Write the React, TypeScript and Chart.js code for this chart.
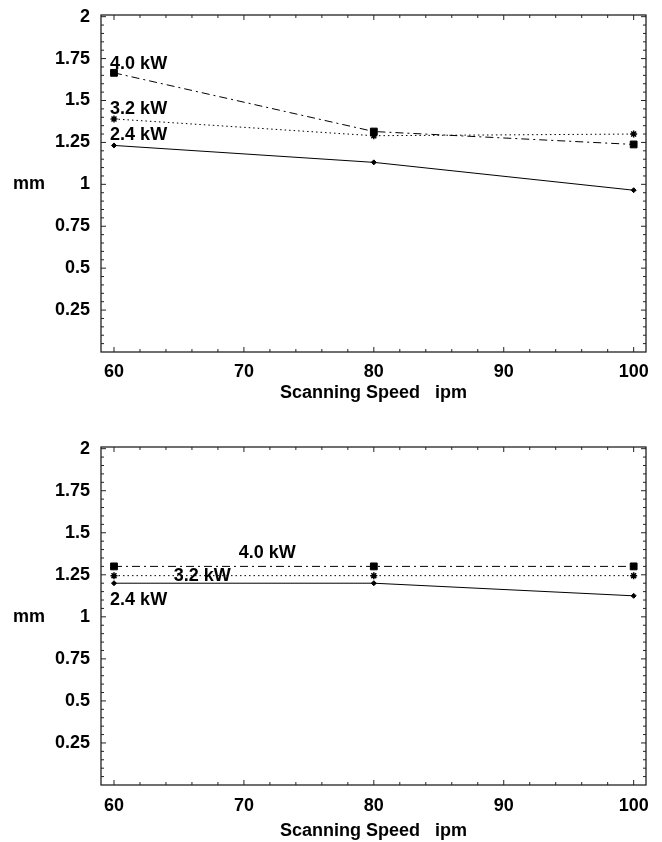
import React, { useEffect, useRef } from 'react';
import { Chart, registerables } from 'chart.js';

Chart.register(...registerables);

// ---- data ----
const speeds = [60, 80, 100];
const seriesNames = ['4.0 kW', '3.2 kW', '2.4 kW'];

const top40 = [1.665, 1.315, 1.238];
const top32 = [1.39, 1.29, 1.3];
const top24 = [1.232, 1.131, 0.965];

const bot40 = [1.3, 1.3, 1.3];
const bot32 = [1.245, 1.245, 1.245];
const bot24 = [1.2, 1.2, 1.125];

const xTickValues = [60, 70, 80, 90, 100];
const yTickValues = [0.25, 0.5, 0.75, 1, 1.25, 1.5, 1.75, 2];

// label anchors (data units) for the in-plot series names
const topLabelX = [59.7, 59.7, 59.7];
const topLabelY = [1.72, 1.452, 1.292];
const botLabelX = [69.6, 64.6, 59.7];
const botLabelY = [1.381, 1.244, 1.1];

const xTitle = 'Scanning Speed   ipm';
const yTitle = 'mm';

const FONT = "'Liberation Sans', Arial, Helvetica, sans-serif";

function makeConfig(
  series: number[][],
  labelX: number[],
  labelY: number[],
  padTop: number,
  xAxisHeight: number,
  xTickPad: number,
  titlePadBottom: number
): any {
  const dashes = [[8, 4, 2, 4], [1.5, 3], []];
  const styles = ['rect', 'star', 'rectRot'];
  const radii = [4.8, 3.5, 2.5];

  const framePlugin = {
    id: 'frame',
    beforeDatasetsDraw(chart: any) {
      const { ctx, chartArea: a, scales } = chart;
      const xs = scales.x;
      const ys = scales.y;
      ctx.save();
      ctx.strokeStyle = '#222';
      ctx.lineWidth = 1.3;
      ctx.strokeRect(a.left, a.top, a.right - a.left, a.bottom - a.top);
      ctx.lineWidth = 1;
      ctx.beginPath();
      for (let v = 60; v <= 100; v += 2) {
        const px = xs.getPixelForValue(v);
        const len = v % 10 === 0 ? 5 : 3;
        ctx.moveTo(px, a.bottom);
        ctx.lineTo(px, a.bottom - len);
        ctx.moveTo(px, a.top);
        ctx.lineTo(px, a.top + len);
      }
      for (let i = 1; i <= 40; i++) {
        const v = i * 0.05;
        const py = ys.getPixelForValue(v);
        const len = i % 5 === 0 ? 5 : 3;
        ctx.moveTo(a.left, py);
        ctx.lineTo(a.left + len, py);
        ctx.moveTo(a.right, py);
        ctx.lineTo(a.right - len, py);
      }
      ctx.stroke();
      ctx.restore();
    },
    afterDraw(chart: any) {
      const { ctx, scales } = chart;
      const xs = scales.x;
      const ys = scales.y;
      ctx.save();
      ctx.fillStyle = '#000';
      ctx.font = `bold 18px ${FONT}`;
      ctx.textBaseline = 'middle';
      ctx.textAlign = 'left';
      seriesNames.forEach((n, i) => {
        ctx.fillText(n, xs.getPixelForValue(labelX[i]), ys.getPixelForValue(labelY[i]));
      });
      ctx.fillText(yTitle, 13, ys.getPixelForValue(1));
      ctx.restore();
    },
  };

  return {
    type: 'line',
    data: {
      datasets: series.map((s, i) => ({
        label: seriesNames[i],
        data: speeds.map((x, j) => ({ x, y: s[j] })),
        borderColor: '#000',
        backgroundColor: '#000',
        borderWidth: 1,
        borderDash: dashes[i],
        pointStyle: styles[i],
        pointRadius: radii[i],
        pointBorderWidth: i === 1 ? 1.5 : 1,
        pointBorderColor: '#000',
        pointBackgroundColor: '#000',
        fill: false,
        tension: 0,
      })),
    },
    options: {
      responsive: false,
      animation: false,
      events: [],
      layout: { padding: { top: padTop, right: 16, left: 0, bottom: 0 } },
      plugins: { legend: { display: false }, tooltip: { enabled: false }, title: { display: false } },
      scales: {
        x: {
          type: 'linear',
          min: 59,
          max: 100.95,
          grid: { display: false, drawTicks: false, tickLength: 0 },
          border: { display: false },
          afterBuildTicks: (scale: any) => {
            scale.ticks = xTickValues.map((v) => ({ value: v }));
          },
          afterFit: (scale: any) => {
            scale.height = xAxisHeight;
            scale.paddingLeft = 0;
            scale.paddingRight = 0;
            scale.paddingTop = 0;
            scale.paddingBottom = 0;
          },
          ticks: {
            padding: xTickPad,
            color: '#000',
            maxRotation: 0,
            font: { family: FONT, size: 18, weight: 'bold' },
            callback: (v: any) => String(v),
          },
          title: {
            display: true,
            text: xTitle,
            color: '#000',
            font: { family: FONT, size: 18, weight: 'bold' },
            padding: { top: 0, bottom: titlePadBottom },
          },
        },
        y: {
          type: 'linear',
          min: 0,
          max: 2.01,
          grid: { display: false, drawTicks: false, tickLength: 0 },
          border: { display: false },
          afterBuildTicks: (scale: any) => {
            scale.ticks = yTickValues.map((v) => ({ value: v }));
          },
          afterFit: (scale: any) => {
            scale.width = 101;
            scale.paddingLeft = 0;
            scale.paddingRight = 0;
            scale.paddingTop = 0;
            scale.paddingBottom = 0;
          },
          ticks: {
            padding: 11,
            color: '#000',
            font: { family: FONT, size: 18, weight: 'bold' },
            callback: (v: any) => String(v),
          },
        },
      },
    },
    plugins: [framePlugin],
  };
}

export default function App() {
  const topRef = useRef<HTMLCanvasElement>(null);
  const botRef = useRef<HTMLCanvasElement>(null);

  useEffect(() => {
    const c1 = new Chart(
      topRef.current as HTMLCanvasElement,
      makeConfig([top40, top32, top24], topLabelX, topLabelY, 15, 69, 9, 17)
    );
    const c2 = new Chart(
      botRef.current as HTMLCanvasElement,
      makeConfig([bot40, bot32, bot24], botLabelX, botLabelY, 26, 57, 10, 0)
    );
    return () => {
      c1.destroy();
      c2.destroy();
    };
  }, []);

  return (
    <div style={{ position: 'absolute', left: 0, top: 0, width: 662, height: 842, background: '#fff' }}>
      <canvas ref={topRef} width={662} height={421} style={{ display: 'block', width: 662, height: 421 }} />
      <canvas ref={botRef} width={662} height={421} style={{ display: 'block', width: 662, height: 421 }} />
    </div>
  );
}
